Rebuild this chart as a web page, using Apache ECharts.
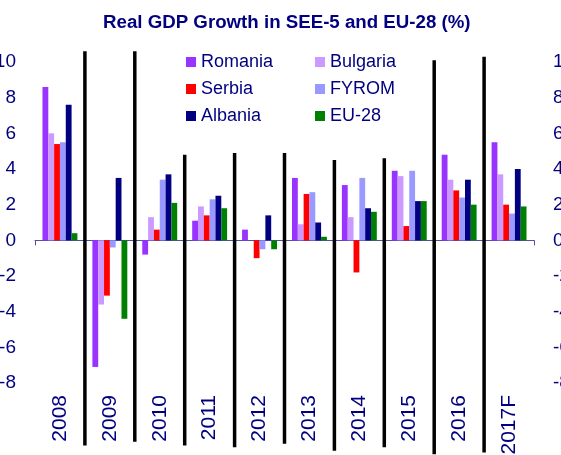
<!DOCTYPE html>
<html>
<head>
<meta charset="utf-8">
<script src="https://cdn.jsdelivr.net/npm/echarts@6/dist/echarts.min.js"></script>
<style>
  html, body { margin: 0; padding: 0; background: #fff; }
  #main { width: 561px; height: 455px; }
</style>
</head>
<body>
<div id="main"></div>
<script>
var years = ['2008', '2009', '2010', '2011', '2012', '2013', '2014', '2015', '2016', '2017F'];
var romania = [8.6, -7.1, -0.8, 1.1, 0.6, 3.5, 3.1, 3.9, 4.8, 5.5];
var bulgaria = [6.0, -3.6, 1.3, 1.9, 0.0, 0.9, 1.3, 3.6, 3.4, 3.7];
var serbia = [5.4, -3.1, 0.6, 1.4, -1.0, 2.6, -1.8, 0.8, 2.8, 2.0];
var fyrom = [5.5, -0.4, 3.4, 2.3, -0.5, 2.7, 3.5, 3.9, 2.4, 1.5];
var albania = [7.6, 3.5, 3.7, 2.5, 1.4, 1.0, 1.8, 2.2, 3.4, 4.0];
var eu28 = [0.4, -4.4, 2.1, 1.8, -0.5, 0.2, 1.6, 2.2, 2.0, 1.9];
// black separators between years (top / bottom, in axis units)
var sepTop = [10.6, 10.6, 4.8, 4.9, 4.9, 4.5, 4.6, 10.1, 10.3];
var sepBottom = [-11.5, -11.3, -11.5, -11.6, -11.4, -11.8, -11.6, -12.0, -11.9];

var navy = '#000080';
var font = 'Arial, "Liberation Sans", sans-serif';

var countries = [
    { name: 'Romania', data: romania, color: '#9933ff' },
    { name: 'Bulgaria', data: bulgaria, color: '#cc99ff' },
    { name: 'Serbia', data: serbia, color: '#ff0000' },
    { name: 'FYROM', data: fyrom, color: '#9999ff' },
    { name: 'Albania', data: albania, color: '#000080' },
    { name: 'EU-28', data: eu28, color: '#008000' }
];

var seriesData = countries.map(function (c) {
    return {
        name: c.name,
        type: 'bar',
        data: c.data,
        xAxisIndex: 0,
        yAxisIndex: 0,
        barGap: '0%',
        barCategoryGap: '30%',
        itemStyle: { color: c.color },
        emphasis: { disabled: true }
    };
});

var sepData = [];
for (var i = 0; i < sepTop.length; i++) {
    sepData.push([i, sepTop[i], sepBottom[i]]);
}
seriesData.push({
    name: 'sep',
    type: 'custom',
    xAxisIndex: 0,
    yAxisIndex: 0,
    clip: false,
    z: 5,
    silent: true,
    encode: { x: 0, y: [1, 2] },
    data: sepData,
    renderItem: function (params, api) {
        var band = api.size([1, 0])[0];
        var p1 = api.coord([api.value(0), api.value(1)]);
        var p2 = api.coord([api.value(0), api.value(2)]);
        var x = p1[0] + band / 2;
        return {
            type: 'line',
            shape: { x1: x, y1: p1[1], x2: x, y2: p2[1] },
            style: { stroke: '#000', lineWidth: 3.5 }
        };
    }
});

var legendText = { color: navy, fontSize: 18, fontFamily: font };

var myChart = echarts.init(document.getElementById('main'));
var option = {
    animation: false,
    backgroundColor: '#fff',
    title: {
        text: 'Real GDP Growth in SEE-5 and EU-28 (%)',
        left: 98,
        top: 8,
        textStyle: { color: navy, fontSize: 18.7, fontWeight: 'bold', fontFamily: font }
    },
    legend: [{
        orient: 'vertical',
        left: 186,
        top: 53,
        padding: 0,
        itemWidth: 10,
        itemHeight: 10,
        itemGap: 9,
        icon: 'rect',
        data: ['Romania', 'Serbia', 'Albania'],
        textStyle: legendText
    }, {
        orient: 'vertical',
        left: 315,
        top: 53,
        padding: 0,
        itemWidth: 10,
        itemHeight: 10,
        itemGap: 9,
        icon: 'rect',
        data: ['Bulgaria', 'FYROM', 'EU-28'],
        textStyle: legendText
    }],
    grid: {
        left: 35,
        right: 27,
        top: 62,
        bottom: 72,
        outerBoundsMode: 'none'
    },
    xAxis: [{
        type: 'category',
        data: years,
        axisLine: { onZero: true, lineStyle: { color: '#5050aa', width: 1 } },
        axisTick: { show: true, length: 5, lineStyle: { color: '#5050aa' } },
        axisLabel: { show: false },
        splitLine: { show: false }
    }, {
        type: 'category',
        data: years,
        position: 'bottom',
        axisLine: { show: false, onZero: false },
        axisTick: { show: false },
        axisLabel: {
            rotate: 90,
            margin: 12,
            color: navy,
            fontSize: 21,
            fontFamily: font
        },
        splitLine: { show: false }
    }],
    yAxis: [{
        type: 'value',
        min: -8,
        max: 10,
        interval: 2,
        axisLine: { show: false },
        axisTick: { show: false },
        splitLine: { show: false },
        axisLabel: { margin: 19, color: navy, fontSize: 19, fontFamily: font }
    }, {
        type: 'value',
        position: 'right',
        min: -8,
        max: 10,
        interval: 2,
        axisLine: { show: false },
        axisTick: { show: false },
        splitLine: { show: false },
        axisLabel: { margin: 19, color: navy, fontSize: 19, fontFamily: font }
    }],
    series: seriesData
};
myChart.setOption(option);
</script>
</body>
</html>
